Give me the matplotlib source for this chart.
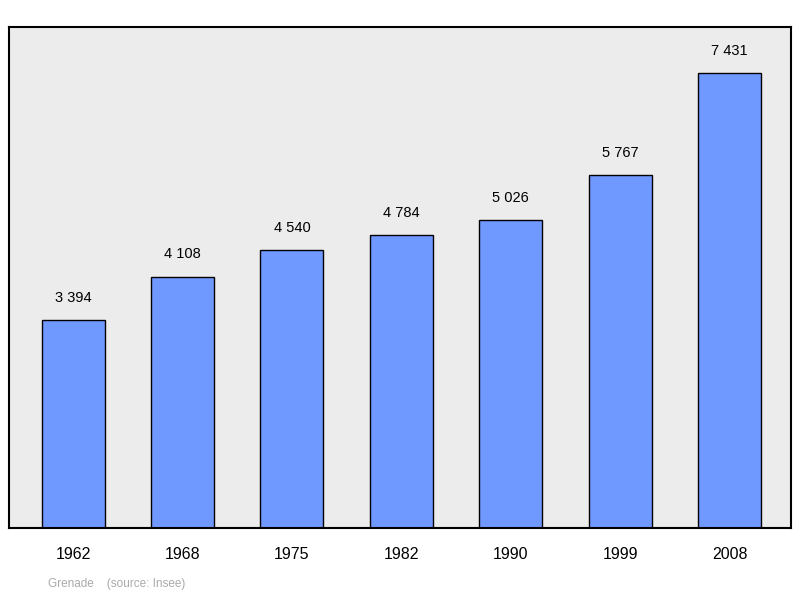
import matplotlib
matplotlib.use("Agg")
import matplotlib.pyplot as plt

years = ["1962", "1968", "1975", "1982", "1990", "1999", "2008"]
population = [3394, 4108, 4540, 4784, 5026, 5767, 7431]
labels = ["3 394", "4 108", "4 540", "4 784", "5 026", "5 767", "7 431"]

plt.rcParams['font.family'] = ['Liberation Sans', 'DejaVu Sans']
fig = plt.figure(figsize=(8, 5.98), dpi=100)
ax = fig.add_axes([9/800, 1-528/598, 782/800, 501/598])
ax.set_facecolor('#ececec')
x = range(len(years))
ax.bar(x, population, width=0.576, color='#7099ff', edgecolor='black', linewidth=1)
for i, (v, l) in enumerate(zip(population, labels)):
    ax.text(i, v + 250, l, ha='center', va='bottom', fontsize=10.5)
ax.set_xlim(-0.585, 6.56)
ax.set_ylim(0, 8187)
ax.set_yticks([])
ax.set_xticks(list(x))
ax.set_xticklabels(years, fontsize=11.5)
ax.tick_params(axis='x', length=0, pad=14)
for s in ax.spines.values():
    s.set_linewidth(1.5)
fig.text(48/800, 1-584/598, "Grenade    (source: Insee)", color='#aaaaaa', fontsize=8.5, va='center')
fig.savefig("out.png", dpi=100)
